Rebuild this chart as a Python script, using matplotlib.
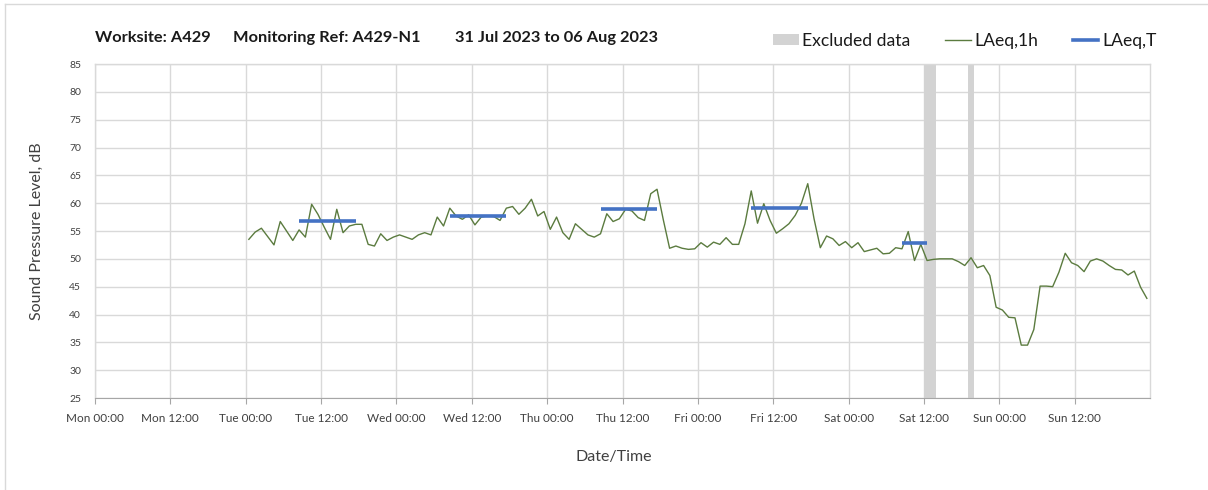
import matplotlib
matplotlib.use("Agg")
import matplotlib.pyplot as plt
from matplotlib.lines import Line2D
from matplotlib.patches import Patch
import pandas as pd

plt.rcParams['font.family'] = ['Lato', 'DejaVu Sans']

title_parts = ["Worksite: A429", "Monitoring Ref: A429-N1", "31 Jul 2023 to 06 Aug 2023"]

# hourly LAeq,1h values, Tue 01 Aug 00:00 .. Sun 06 Aug 23:00 (plotted at mid-hour)
tue = [53.5, 54.8, 55.5, 54.0, 52.5, 56.7, 55.0, 53.3, 55.2, 53.9, 59.8, 58.0,
       55.7, 53.5, 58.9, 54.7, 55.9, 56.2, 56.2, 52.6, 52.3, 54.5, 53.3, 53.9]
wed = [54.3, 53.9, 53.5, 54.3, 54.7, 54.3, 57.5, 55.9, 59.1, 57.7, 57.1, 57.9,
       56.1, 57.5, 57.7, 57.6, 56.9, 59.1, 59.4, 58.0, 59.1, 60.7, 57.7, 58.5]
thu = [55.3, 57.5, 54.7, 53.5, 56.3, 55.3, 54.3, 53.9, 54.5, 58.1, 56.7, 57.2,
       58.9, 58.6, 57.4, 56.9, 61.7, 62.5, 57.0, 51.9, 52.3, 51.9, 51.7, 51.8]
fri = [52.9, 52.1, 53.0, 52.6, 53.8, 52.6, 52.6, 56.3, 62.2, 56.4, 59.9, 56.9,
       54.6, 55.4, 56.3, 57.8, 60.0, 63.5, 57.2, 52.0, 54.1, 53.6, 52.4, 53.1]
sat = [52.0, 52.9, 51.3, 51.6, 51.9, 50.9, 51.0, 52.0, 51.8, 54.9, 49.7, 52.6,
       49.7, 49.9, 50.0, 50.0, 50.0, 49.5, 48.8, 50.2, 48.4, 48.8, 47.0, 41.3]
sun = [40.8, 39.5, 39.4, 34.5, 34.5, 37.3, 45.1, 45.1, 45.0, 47.6, 51.0, 49.3,
       48.8, 47.7, 49.6, 50.0, 49.6, 48.8, 48.1, 48.0, 47.1, 47.8, 44.9, 42.9]
laeq_1h = tue + wed + thu + fri + sat + sun
times_1h = pd.date_range("2023-08-01 00:30", periods=len(laeq_1h), freq="h")

# LAeq,T period values (start, end, level)
laeqT_start = ["2023-08-01 08:30", "2023-08-02 08:30", "2023-08-03 08:30",
               "2023-08-04 08:30", "2023-08-05 08:30"]
laeqT_end = ["2023-08-01 17:30", "2023-08-02 17:30", "2023-08-03 17:30",
             "2023-08-04 17:30", "2023-08-05 12:30"]
laeqT_val = [56.8, 57.7, 59.0, 59.2, 52.8]

# excluded data periods
excl_start = ["2023-08-05 12:00", "2023-08-05 19:00"]
excl_end = ["2023-08-05 14:00", "2023-08-05 20:00"]

x_start = pd.Timestamp("2023-07-31 00:00")
x_end = pd.Timestamp("2023-08-07 00:00")
tick_times = pd.date_range(x_start, "2023-08-06 12:00", freq="12h")
y_ticks = list(range(25, 90, 5))

green = "#5b7b3f"
blue = "#4472c4"
excl_c = "#d3d3d3"
grid_c = "#d9d9d9"

fig = plt.figure(figsize=(12.08, 4.90), dpi=100)
ax = fig.add_axes([95/1208, 1-398/490, (1150-95)/1208, (398-64)/490])

for s, e in zip(excl_start, excl_end):
    ax.axvspan(pd.Timestamp(s), pd.Timestamp(e), color=excl_c, lw=0, zorder=1)

ax.plot(times_1h, laeq_1h, color=green, lw=1.0, zorder=3)
for s, e, v in zip(laeqT_start, laeqT_end, laeqT_val):
    ax.plot([pd.Timestamp(s), pd.Timestamp(e)], [v, v], color=blue,
            lw=2.6, solid_capstyle="butt", zorder=4)

ax.set_xlim(x_start, x_end)
ax.set_ylim(25, 85)
ax.set_yticks(y_ticks)
ax.set_xticks(tick_times)
ax.set_xticklabels([t.strftime("%a %H:%M") for t in tick_times])
ax.grid(True, color=grid_c, lw=1.0, zorder=0)
ax.set_axisbelow(True)
for sp in ["top", "right", "left"]:
    ax.spines[sp].set_color(grid_c)
    ax.spines[sp].set_linewidth(1.0)
ax.spines["bottom"].set_color("#a6a6a6")
ax.tick_params(axis="x", length=4, color="#a6a6a6", labelsize=8.5,
               labelcolor="#404040", pad=7)
ax.tick_params(axis="y", length=0, labelsize=7.5, labelcolor="#404040", pad=10)

ax.set_ylabel("Sound Pressure Level, dB", fontsize=11.5, color="#404040", labelpad=18)
fig.text(614/1208, 1-457/490, "Date/Time", fontsize=11.5, color="#404040",
         ha="center", va="center")
for xp, txt in zip([95, 233, 455], title_parts):
    fig.text(xp/1208, 1-38/490, txt, fontsize=11.8, fontweight="bold",
             color="#1a1a1a", ha="left", va="center")

handles = [Patch(facecolor=excl_c, edgecolor="none"),
           Line2D([], [], color=green, lw=1.0),
           Line2D([], [], color=blue, lw=2.6)]
labels = ["Excluded data", "LAeq,1h", "LAeq,T"]
fig.legend(handles, labels, loc="center right", bbox_to_anchor=(1172/1208, 1-41/490),
           ncol=3, frameon=False, fontsize=12.6, handlelength=1.45, handleheight=0.6,
           handletextpad=0.2, columnspacing=2.0, labelcolor="#1a1a1a")

# chart border
fig.add_artist(Line2D([4.5/1208, 1], [1-4.5/490, 1-4.5/490], color=grid_c, lw=1,
                      transform=fig.transFigure))
fig.add_artist(Line2D([4.5/1208, 4.5/1208], [0, 1-4.5/490], color=grid_c, lw=1,
                      transform=fig.transFigure))

fig.savefig("out.png", dpi=100)
